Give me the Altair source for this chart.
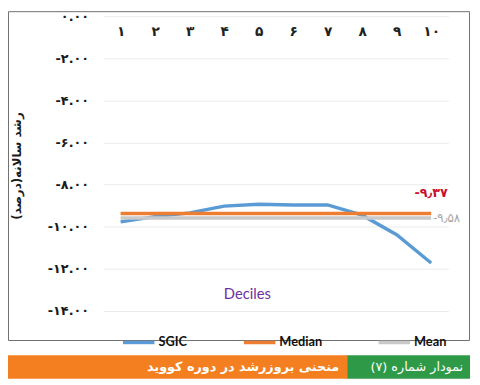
import altair as alt
import pandas as pd

# ---- data ----
deciles = ["۱", "۲", "۳", "۴", "۵", "۶", "۷", "۸", "۹", "۱۰"]
sgic = [-9.77, -9.52, -9.34, -9.02, -8.93, -8.97, -8.96, -9.45, -10.38, -11.72]
median_value = -9.37
mean_value = -9.58
series_names = ["SGIC", "Median", "Mean"]
series_colors = ["#5B9BD5", "#ED7D31", "#C9C9C9"]
y_ticks = [0, -2, -4, -6, -8, -10, -12, -14]
y_tick_labels = ["۰.۰۰", "-۲.۰۰", "-۴.۰۰", "-۶.۰۰", "-۸.۰۰", "-۱۰.۰۰", "-۱۲.۰۰", "-۱۴.۰۰"]
median_label = "-۹٫۳۷"
mean_label = "-۹٫۵۸"
y_title = "رشد سالانه(درصد)"
x_title = "Deciles"
banner_number = "نمودار شماره (۷)"
banner_title = "منحنی بروزرشد در دوره کووید"

rows = []
for d, v in zip(deciles, sgic):
    rows.append({"decile": d, "value": v, "series": "SGIC"})
for d in deciles:
    rows.append({"decile": d, "value": median_value, "series": "Median"})
for d in deciles:
    rows.append({"decile": d, "value": mean_value, "series": "Mean"})
df = pd.DataFrame(rows)

W, H = 351, 300
label_expr = "[" + ",".join("'" + s + "'" for s in y_tick_labels) + "][-datum.value/2]"

x_enc = alt.X(
    "decile:N", sort=deciles,
    scale=alt.Scale(paddingInner=0, paddingOuter=0),
    axis=alt.Axis(
        orient="top", domain=False, ticks=False, grid=False,
        labelAngle=0, labelPadding=-16, labelBaseline="middle",
        labelFontSize=14, labelFontWeight="bold", labelFont="DejaVu Sans",
        labelColor="#222222",
        title=x_title, titleX=146, titleY=282, titleAlign="center",
        titleBaseline="middle", titleFont="Lato", titleFontSize=15,
        titleFontWeight="normal", titleColor="#7030A0",
    ),
)
y_enc = alt.Y(
    "value:Q",
    scale=alt.Scale(domain=[-14, 0], nice=False, zero=False),
    axis=alt.Axis(
        values=y_ticks, labelExpr=label_expr, domain=False, ticks=False,
        grid=True, gridColor="#EBEBEB", labelPadding=15, labelFontSize=13,
        labelFontWeight="bold", labelColor="#1A1A1A", labelFont="DejaVu Sans",
        title=y_title, titleX=-88, titleY=152, titleAngle=-90,
        titleAlign="center", titleBaseline="middle", titleFontSize=12,
        titleFontWeight="bold", titleColor="#1A1A1A", titleFont="DejaVu Sans",
    ),
)
color_enc = alt.Color(
    "series:N",
    scale=alt.Scale(domain=series_names, range=series_colors),
    legend=alt.Legend(
        orient="none", legendX=18, legendY=314, direction="horizontal",
        title=None, symbolType="stroke", symbolSize=1024,
        symbolStrokeWidth=3.5, labelFontSize=13, labelFontWeight="bold",
        labelFont="Lato", labelColor="#111111", labelOffset=2,
        columnPadding=50,
    ),
)

base = alt.Chart(df)
sgic_line = base.transform_filter(alt.datum.series == "SGIC").mark_line(strokeWidth=3.5).encode(
    x=x_enc, y=y_enc, color=color_enc)
stat_lines = base.transform_filter(alt.datum.series != "SGIC").mark_line(strokeWidth=3.5).encode(
    x=x_enc, y=y_enc, color=color_enc, detail="series:N")

ann_df = pd.DataFrame([
    {"decile": deciles[-1], "value": median_value, "label": median_label},
])
ann_df2 = pd.DataFrame([
    {"decile": deciles[-1], "value": mean_value, "label": mean_label},
])
median_text = alt.Chart(ann_df).mark_text(
    dy=-21, align="center", fontSize=13, fontWeight="bold", color="#C8102E",
    font="DejaVu Sans").encode(x=alt.X("decile:N", sort=deciles), y="value:Q", text="label:N")
mean_text = alt.Chart(ann_df2).mark_text(
    dx=2, align="left", fontSize=12, color="#A6A6A6",
    font="DejaVu Sans").encode(x=alt.X("decile:N", sort=deciles), y="value:Q", text="label:N")

one = pd.DataFrame([{"k": 0}])
border = alt.Chart(one).mark_rect(fill=None, stroke="#6E6E6E", strokeWidth=1).encode(
    x=alt.value(-96.5), x2=alt.value(372.5), y=alt.value(-4.5), y2=alt.value(330))
banner_orange = alt.Chart(one).mark_rect(color="#F47F20").encode(
    x=alt.value(-97), x2=alt.value(248), y=alt.value(345), y2=alt.value(369))
banner_green = alt.Chart(one).mark_rect(color="#2E9A47").encode(
    x=alt.value(248), x2=alt.value(373), y=alt.value(345), y2=alt.value(369))
txt_green = alt.Chart(pd.DataFrame([{"t": banner_number}])).mark_text(
    align="right", baseline="middle", color="white", fontSize=13, font="DejaVu Sans").encode(
    x=alt.value(366), y=alt.value(357), text="t:N")
txt_orange = alt.Chart(pd.DataFrame([{"t": banner_title}])).mark_text(
    align="right", baseline="middle", color="white", fontSize=13, fontWeight="bold",
    font="DejaVu Sans").encode(
    x=alt.value(240), y=alt.value(357), text="t:N")

chart = alt.layer(
    border, banner_orange, banner_green, txt_green, txt_orange,
    sgic_line, stat_lines, median_text, mean_text,
).properties(
    width=W, height=H,
    autosize=alt.AutoSizeParams(type="none"),
    padding={"left": 97, "top": 5, "right": 24, "bottom": 72},
    background="white",
).configure_view(stroke=None)

chart.save("out.html", embed_options={"renderer": "svg", "actions": False})
